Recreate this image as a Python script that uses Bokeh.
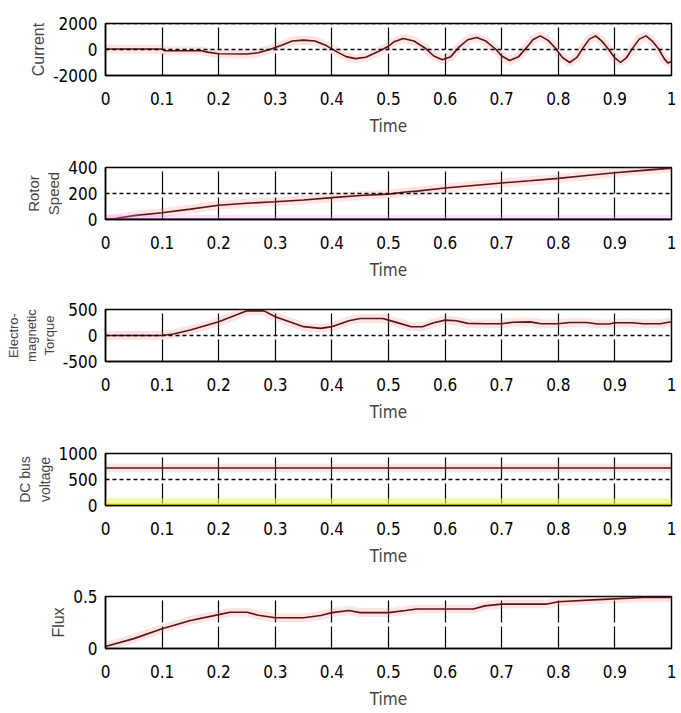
from bokeh.plotting import figure
from bokeh.layouts import column
from bokeh.models import FixedTicker, Span
from bokeh.embed import file_html
from bokeh.resources import INLINE

# ---- data ----
cur_t = [0, 0.1, 0.105, 0.17, 0.18, 0.2, 0.25, 0.27, 0.29, 0.31, 0.33, 0.35, 0.37, 0.39, 0.41, 0.425,
         0.442, 0.46, 0.48, 0.5, 0.51, 0.526, 0.545, 0.565, 0.58, 0.595, 0.61, 0.625, 0.64, 0.656,
         0.672, 0.69, 0.70, 0.714, 0.73, 0.745, 0.755, 0.768, 0.782, 0.795, 0.807, 0.82, 0.833,
         0.845, 0.855, 0.866, 0.878, 0.889, 0.899, 0.91, 0.92, 0.933, 0.943, 0.955, 0.966, 0.978,
         0.987, 0.994, 1.0]
cur_v = [40, 40, -100, -100, -200, -330, -350, -250, 0, 300, 650, 720, 650, 300, -200, -550,
         -700, -600, -200, 250, 600, 850, 650, 100, -500, -780, -550, 200, 750, 930,
         650, 0, -500, -850, -550, 200, 750, 1050, 700, 100, -600, -1000, -600,
         200, 800, 1050, 600, 0, -600, -1000, -650, 200, 800, 1050, 650, 0,
         -700, -1050, -900]

spd_t = [0, 0.02, 0.05, 0.1, 0.15, 0.2, 0.25, 0.3, 0.35, 0.4, 0.45, 0.5, 0.53, 0.55, 0.6, 0.65,
         0.7, 0.75, 0.8, 0.85, 0.9, 0.95, 1.0]
spd_v = [0, 10, 30, 52, 80, 110, 125, 137, 150, 168, 185, 195, 212, 218, 242, 262,
         281, 298, 316, 338, 360, 378, 395]
spd_ref = [0, 0]

tq_t = [0, 0.1, 0.12, 0.15, 0.2, 0.25, 0.28, 0.3, 0.35, 0.38, 0.4, 0.43, 0.45, 0.49, 0.5, 0.52,
        0.54, 0.56, 0.58, 0.6, 0.62, 0.64, 0.67, 0.7, 0.72, 0.75, 0.77, 0.8, 0.82, 0.85, 0.87,
        0.89, 0.9, 0.93, 0.95, 0.98, 1.0]
tq_v = [0, 0, 30, 105, 264, 474, 474, 360, 170, 137, 170, 283, 328, 328, 296, 233,
        168, 168, 245, 296, 283, 233, 225, 225, 255, 262, 225, 225, 250, 250, 220,
        220, 245, 245, 225, 225, 264]

dc_t = [0, 1.0]
dc_v = [720, 720]
dc_low = [20, 20]

flx_t = [0, 0.05, 0.1, 0.15, 0.2, 0.22, 0.25, 0.27, 0.3, 0.35, 0.38, 0.4, 0.43, 0.45, 0.5, 0.53,
         0.55, 0.6, 0.65, 0.67, 0.7, 0.78, 0.8, 0.87, 0.95, 1.0]
flx_v = [0.02, 0.095, 0.19, 0.27, 0.326, 0.348, 0.348, 0.32, 0.295, 0.295, 0.317, 0.345, 0.365,
         0.345, 0.345, 0.365, 0.38, 0.38, 0.38, 0.41, 0.427, 0.427, 0.45, 0.47, 0.49, 0.49]

x_ticks = [0, 0.1, 0.2, 0.3, 0.4, 0.5, 0.6, 0.7, 0.8, 0.9, 1.0]
x_tick_labels = {0: "0", 0.1: "0.1", 0.2: "0.2", 0.3: "0.3", 0.4: "0.4", 0.5: "0.5",
                 0.6: "0.6", 0.7: "0.7", 0.8: "0.8", 0.9: "0.9", 1.0: "1"}

NARROW = "DejaVu Sans Condensed"
SANS = "Liberation Sans"
LINE = "#5c1414"
GLOW = "#f07878"


def make(ylabel, ysize, yr, yticks, ylabels, dashed_at, top, bottom):
    p = figure(frame_width=566, frame_height=52, x_range=(0, 1.0), y_range=yr,
               output_backend="svg", toolbar_location=None,
               min_border_left=105, min_border_right=6, min_border_top=top,
               min_border_bottom=bottom)
    p.outline_line_color = "black"
    p.outline_line_width = 1.5
    p.background_fill_color = "white"
    p.border_fill_color = "white"
    for ax in (p.xaxis[0], p.yaxis[0]):
        ax.axis_line_color = "black"
        ax.axis_line_width = 1.5
        ax.major_tick_line_color = None
        ax.minor_tick_line_color = None
        ax.major_label_text_font = NARROW
        ax.major_label_text_font_size = "17px"
        ax.major_label_text_color = "black"
    p.xaxis.ticker = FixedTicker(ticks=x_ticks)
    p.xaxis.major_label_overrides = x_tick_labels
    p.xaxis.major_label_standoff = 10
    p.xaxis.axis_label = "Time"
    p.xaxis.axis_label_text_font = NARROW
    p.xaxis.axis_label_text_font_style = "normal"
    p.xaxis.axis_label_text_font_size = "17px"
    p.xaxis.axis_label_standoff = 8
    p.yaxis.ticker = FixedTicker(ticks=yticks)
    p.yaxis.major_label_overrides = ylabels
    p.yaxis.major_label_standoff = 2
    p.yaxis.axis_label = ylabel
    p.yaxis.axis_label_text_font = SANS
    p.yaxis.axis_label_text_font_style = "normal"
    p.yaxis.axis_label_text_font_size = ysize
    p.yaxis.axis_label_standoff = 3
    p.xgrid.ticker = FixedTicker(ticks=x_ticks)
    p.xgrid.grid_line_color = "black"
    p.xgrid.grid_line_dash = "22 4"
    p.xgrid.grid_line_width = 1.2
    p.ygrid.grid_line_color = None
    for v in dashed_at:
        p.add_layout(Span(location=v, dimension="width", line_color="black",
                          line_dash="4 3", line_width=1.5))
    return p


def trace(p, x, y, color=LINE, glow=GLOW):
    p.line(x, y, line_color=glow, line_width=9, line_alpha=0.2)
    p.line(x, y, line_color=color, line_width=1.6)


p1 = make("Current", "16px", (-2000, 2000), [-2000, 0, 2000],
          {-2000: "-2000", 0: "0", 2000: "2000"}, [0, 2000], 23, 69)
trace(p1, cur_t, cur_v)

p2 = make("Rotor\nSpeed", "15px", (0, 400), [0, 200, 400],
          {0: "0", 200: "200", 400: "400"}, [200], 23, 68)
trace(p2, spd_t, spd_v)
p2.line(dc_t, spd_ref, line_color="#ee88ee", line_width=9, line_alpha=0.25)
p2.line(dc_t, spd_ref, line_color="#8a2a9a", line_width=2)

p3 = make("Electro-\nmagnetic\nTorque", "13px", (-500, 500), [-500, 0, 500],
          {-500: "-500", 0: "0", 500: "500"}, [0], 22, 70)
trace(p3, tq_t, tq_v)

p4 = make("DC bus\nvoltage", "14px", (0, 1000), [0, 500, 1000],
          {0: "0", 500: "500", 1000: "1000"}, [500], 22, 69)
trace(p4, dc_t, dc_v)
p4.line(dc_t, dc_low, line_color="#f0f060", line_width=12, line_alpha=0.6)
p4.line(dc_t, dc_low, line_color="#e6e600", line_width=2)

p5 = make("Flux", "16px", (0, 0.5), [0, 0.5], {0: "0", 0.5: "0.5"}, [], 22, 63)
trace(p5, flx_t, flx_v)

layout = column(p1, p2, p3, p4, p5, spacing=0)
open("out.html", "w").write(file_html(layout, INLINE))
